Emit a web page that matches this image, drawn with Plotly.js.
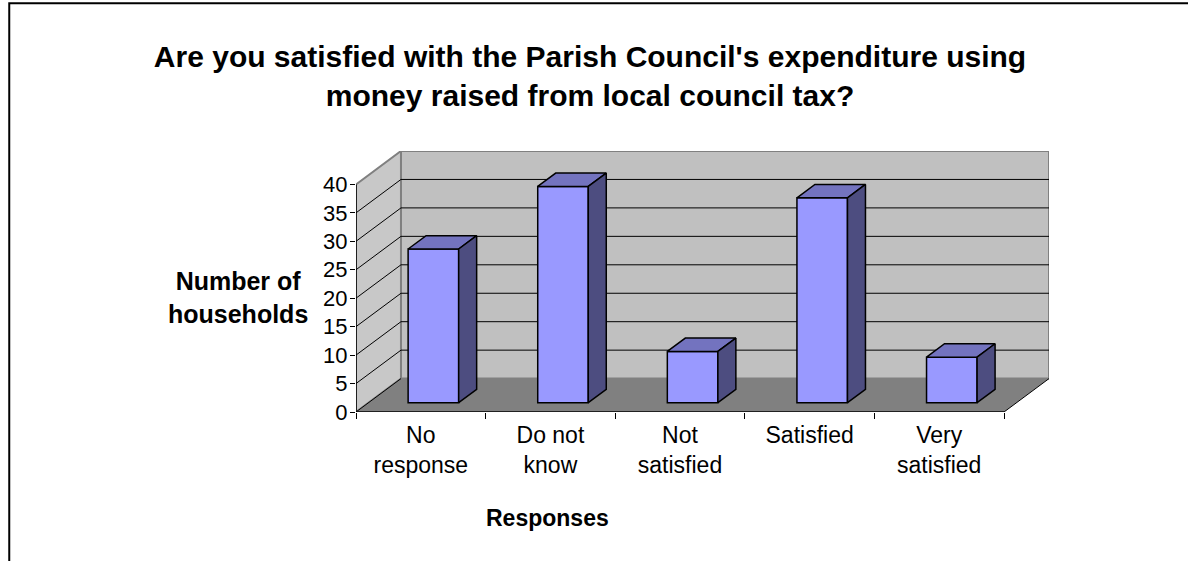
<!DOCTYPE html>
<html>
<head>
<meta charset="utf-8">
<script src="https://cdn.plot.ly/plotly-3.0.1.min.js"></script>
<style>
html,body{margin:0;padding:0;background:#ffffff;}
#chart{width:1188px;height:561px;}
</style>
</head>
<body>
<div id="chart"></div>
<script>
// ---------------- data ----------------
const categories = ['No response', 'Do not know', 'Not satisfied', 'Satisfied', 'Very satisfied'];
const tickLabels = ['No<br>response', 'Do not<br>know', 'Not<br>satisfied', 'Satisfied', 'Very<br>satisfied'];
const households = [27, 38, 9, 36, 8];
const yTicks = [0, 5, 10, 15, 20, 25, 30, 35, 40];
const chartTitle = "Are you satisfied with the Parish Council's expenditure using<br>money raised from local council tax?";
const xTitle = 'Responses';
const yTitle = 'Number of<br>households';

// ---------------- 3D look (oblique projection) ----------------
const DX = 0.347;   // depth shift in category units (full depth)
const DY = 5.87;    // depth shift in value units (full depth)
const D0 = 0.28, D1 = 0.68;  // bar depth range (fraction of full depth)
const HALF = 0.195;           // half bar width (category units)
const YMAX = yTicks[yTicks.length - 1];
const xLo = -0.5, xHi = categories.length - 0.5;

// plot area in pixels
const W = 1188, H = 561;
const PL = 356, PR = 1049.5, PT = 150.7, PB = 411.7;
const px2paperX = p => (p - PL) / (PR - PL);
const px2paperY = p => (PB - p) / (PB - PT);

const FONT = 'Liberation Sans, Arial, sans-serif';
const idx = categories.map((c, i) => i);

const traces = [];
// front faces of bars
traces.push({
  type: 'bar',
  x: idx.map(i => i + D0 * DX),
  y: households,
  base: D0 * DY,
  width: 2 * HALF,
  marker: {color: '#9999FF', line: {color: '#000000', width: 1.5}},
  hoverinfo: 'skip',
  showlegend: false
});
// top and side faces
households.forEach((v, i) => {
  const xl0 = i - HALF + D0 * DX, xr0 = i + HALF + D0 * DX;
  const xl1 = i - HALF + D1 * DX, xr1 = i + HALF + D1 * DX;
  const yb0 = D0 * DY, yb1 = D1 * DY;
  traces.push({
    type: 'scatter', mode: 'lines', fill: 'toself',
    x: [xl0, xr0, xr1, xl1, xl0],
    y: [v + yb0, v + yb0, v + yb1, v + yb1, v + yb0],
    fillcolor: 'rgb(115,115,191)',
    line: {color: '#000000', width: 1.5},
    hoverinfo: 'skip', showlegend: false
  });
  traces.push({
    type: 'scatter', mode: 'lines', fill: 'toself',
    x: [xr0, xr0, xr1, xr1, xr0],
    y: [yb0, v + yb0, v + yb1, yb1, yb0],
    fillcolor: 'rgb(77,77,128)',
    line: {color: '#000000', width: 1.5},
    hoverinfo: 'skip', showlegend: false
  });
});
// invisible trace that carries the category label axis
traces.push({
  type: 'scatter', mode: 'markers', x: idx, y: households,
  xaxis: 'x2', yaxis: 'y', marker: {opacity: 0, size: 1},
  hoverinfo: 'skip', showlegend: false
});

// ---------------- walls, floor, gridlines ----------------
const shapes = [];
const P = (x, y) => x + ',' + y;
// back wall
shapes.push({type: 'rect', xref: 'x', yref: 'y', layer: 'below',
  x0: xLo + DX, x1: xHi + DX, y0: DY, y1: YMAX + DY,
  fillcolor: '#C0C0C0', line: {color: '#808080', width: 2}});
// left wall
shapes.push({type: 'path', xref: 'x', yref: 'y', layer: 'below',
  path: 'M' + P(xLo, 0) + 'L' + P(xLo, YMAX) + 'L' + P(xLo + DX, YMAX + DY) + 'L' + P(xLo + DX, DY) + 'Z',
  fillcolor: '#C8C8C8', line: {color: '#808080', width: 2}});
// floor
shapes.push({type: 'path', xref: 'x', yref: 'y', layer: 'below',
  path: 'M' + P(xLo, 0) + 'L' + P(xHi, 0) + 'L' + P(xHi + DX, DY) + 'L' + P(xLo + DX, DY) + 'Z',
  fillcolor: '#808080', line: {width: 0}});
// gridlines (left wall diagonal + back wall horizontal)
yTicks.forEach(v => {
  if (v === YMAX) return;
  let path = 'M' + P(xLo, v) + 'L' + P(xLo + DX, v + DY);
  if (v !== 0) path += 'L' + P(xHi + DX, v + DY);
  shapes.push({type: 'path', xref: 'x', yref: 'y', layer: 'below', path: path,
    line: {color: '#000000', width: 1}});
});
// floor right edge
shapes.push({type: 'line', xref: 'x', yref: 'y', layer: 'below',
  x0: xHi, y0: 0, x1: xHi + DX, y1: DY, line: {color: '#000000', width: 1}});
// axis lines
shapes.push({type: 'line', xref: 'x', yref: 'y', layer: 'below',
  x0: xLo, y0: 0, x1: xHi, y1: 0, line: {color: '#000000', width: 1.5}});
shapes.push({type: 'line', xref: 'x', yref: 'y', layer: 'below',
  x0: xLo, y0: 0, x1: xLo, y1: YMAX, line: {color: '#000000', width: 1.5}});
// chart border (right and bottom edges fall outside the picture)
shapes.push({type: 'rect', xref: 'paper', yref: 'paper', layer: 'above',
  x0: px2paperX(9), x1: px2paperX(1210), y0: px2paperY(3), y1: px2paperY(640),
  line: {color: '#000000', width: 2}, fillcolor: 'rgba(0,0,0,0)'});

const boundaries = [];
for (let i = 0; i <= categories.length; i++) boundaries.push(i - 0.5);

const layout = {
  width: W, height: H,
  margin: {l: PL, r: W - PR, t: PT, b: H - PB, pad: 0, autoexpand: false},
  paper_bgcolor: '#ffffff', plot_bgcolor: '#ffffff',
  font: {family: FONT, color: '#000000', size: 22},
  title: {
    text: '<b>' + chartTitle + '</b>',
    font: {family: FONT, size: 30, color: '#000000'},
    xref: 'container', yref: 'container',
    x: 590 / W, xanchor: 'center',
    y: 1 - 67 / H, yanchor: 'middle'
  },
  xaxis: {
    range: [xLo, xHi + DX], fixedrange: true,
    tickmode: 'array', tickvals: boundaries, showticklabels: false,
    ticks: 'outside', ticklen: 6, tickwidth: 1, tickcolor: '#000000',
    showgrid: false, zeroline: false, showline: false
  },
  xaxis2: {
    overlaying: 'x', anchor: 'y', side: 'bottom',
    range: [xLo, xHi + DX], fixedrange: true,
    tickmode: 'array', tickvals: idx, ticktext: tickLabels,
    ticks: '', ticklabelstandoff: 7,
    tickfont: {family: FONT, size: 23, color: '#000000'},
    showgrid: false, zeroline: false, showline: false
  },
  yaxis: {
    range: [0, YMAX + DY], fixedrange: true,
    tickmode: 'array', tickvals: yTicks,
    ticks: 'outside', ticklen: 5, tickwidth: 1, tickcolor: '#000000',
    ticklabelstandoff: -2,
    tickfont: {family: FONT, size: 22, color: '#000000'},
    showgrid: false, zeroline: false, showline: false
  },
  shapes: shapes,
  annotations: [
    {text: '<b>' + yTitle + '</b>', xref: 'paper', yref: 'paper',
     x: px2paperX(238), y: px2paperY(297), xanchor: 'center', yanchor: 'middle',
     showarrow: false, font: {family: FONT, size: 25, color: '#000000'}},
    {text: '<b>' + xTitle + '</b>', xref: 'paper', yref: 'paper',
     x: px2paperX(548), y: px2paperY(518), xanchor: 'center', yanchor: 'middle',
     showarrow: false, font: {family: FONT, size: 23, color: '#000000'}}
  ],
  showlegend: false
};

Plotly.newPlot('chart', traces, layout, {staticPlot: true, displayModeBar: false});
</script>
</body>
</html>
